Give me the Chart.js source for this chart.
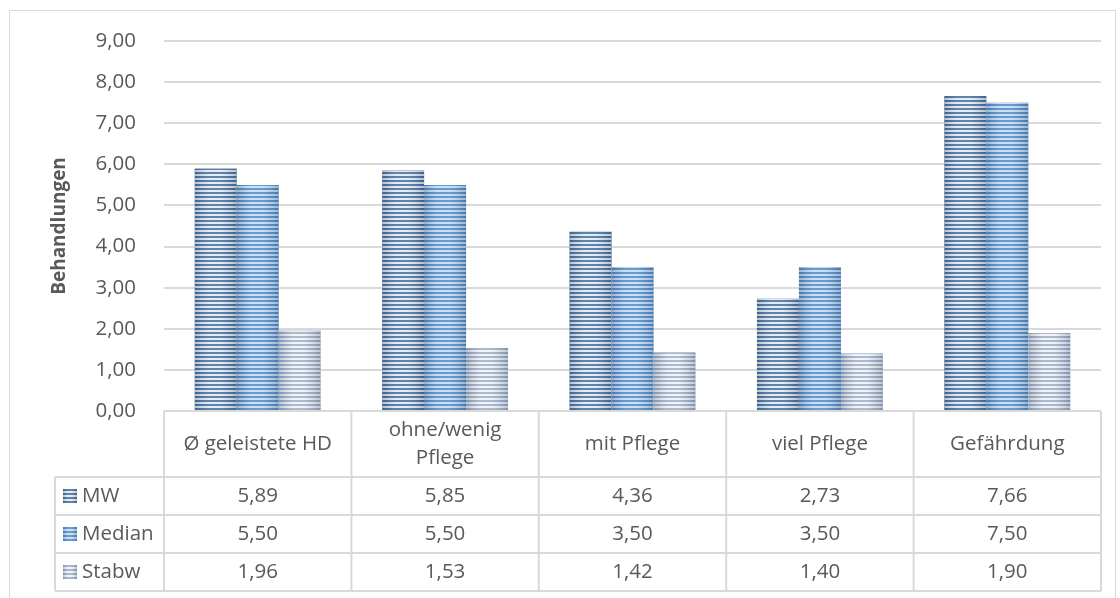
<!DOCTYPE html>
<html>
<head>
<meta charset="utf-8">
<script src="https://cdn.jsdelivr.net/npm/chart.js@4/dist/chart.umd.min.js"></script>
<style>
  html, body { margin: 0; padding: 0; background: #fff; }
  #wrap { width: 1120px; height: 598px; position: relative; }
</style>
</head>
<body>
<div id="wrap"><canvas id="chart"></canvas></div>
<script>
// Data
const categories = ['Ø geleistete HD', ['ohne/wenig', 'Pflege'], 'mit Pflege', 'viel Pflege', 'Gefährdung'];
const seriesNames = ['MW', 'Median', 'Stabw'];
const mwValues = [5.89, 5.85, 4.36, 2.73, 7.66];
const medianValues = [5.50, 5.50, 3.50, 3.50, 7.50];
const stabwValues = [1.96, 1.53, 1.42, 1.40, 1.90];
const yAxisTitle = 'Behandlungen';

// stripe colours per series (dark line / light line)
const palettes = [
    { dark: '#426f9e', light: '#e2e9f2' },
    { dark: '#4d89ca', light: '#c4dbf1' },
    { dark: '#9dacc6', light: '#eef1f6' }
];

const FONT = '"Open Sans", sans-serif';
const TEXT = '#595959';
const LINE = '#d9d9d9';

const fmt = v => v.toFixed(2).replace('.', ',');

function stripedRect(ctx, x, y, w, h, pal) {
    if (h <= 0) return;
    ctx.save();
    ctx.beginPath();
    ctx.rect(x, y, w, h);
    ctx.clip();
    ctx.fillStyle = pal.light;
    ctx.fillRect(x, y, w, h);
    ctx.fillStyle = pal.dark;
    for (let yy = y + h; yy > y - 4; yy -= 4) {
        ctx.fillRect(x, yy - 2, w, 2);
    }
    // soft horizontal shading, darker at the edges
    const g = ctx.createLinearGradient(x, 0, x + w, 0);
    g.addColorStop(0, 'rgba(40,60,90,0.25)');
    g.addColorStop(0.35, 'rgba(255,255,255,0.15)');
    g.addColorStop(0.6, 'rgba(255,255,255,0.15)');
    g.addColorStop(1, 'rgba(40,60,90,0.25)');
    ctx.fillStyle = g;
    ctx.fillRect(x, y, w, h);
    ctx.restore();
}

// draws the striped bars, the axis title, the data table and the frame
const tablePlugin = {
    id: 'dataTable',
    afterDatasetsDraw(chart) {
        const ctx = chart.ctx;
        chart.data.datasets.forEach((ds, i) => {
            const meta = chart.getDatasetMeta(i);
            meta.data.forEach(bar => {
                const w = bar.width;
                stripedRect(ctx, bar.x - w / 2, bar.y, w, bar.base - bar.y, palettes[i]);
            });
        });
    },
    afterDraw(chart) {
        const ctx = chart.ctx;
        const area = chart.chartArea;
        const xs = chart.scales.x;
        const n = categories.length;
        const colW = (area.right - area.left) / n;
        const top = area.bottom;
        const headH = 66;
        const rowH = 38;
        const legendLeft = 55;
        const rowsTop = top + headH;
        const bottom = rowsTop + rowH * seriesNames.length;

        ctx.save();
        ctx.strokeStyle = LINE;
        ctx.lineWidth = 2;
        ctx.beginPath();
        ctx.moveTo(area.left, top); ctx.lineTo(area.right, top);
        for (let r = 0; r <= seriesNames.length; r++) {
            const y = rowsTop + r * rowH;
            ctx.moveTo(legendLeft, y); ctx.lineTo(area.right, y);
        }
        for (let c = 0; c <= n; c++) {
            const x = area.left + c * colW;
            ctx.moveTo(x, top); ctx.lineTo(x, bottom);
        }
        ctx.moveTo(legendLeft, rowsTop); ctx.lineTo(legendLeft, bottom);
        ctx.stroke();

        ctx.fillStyle = TEXT;
        ctx.font = '20.5px ' + FONT;
        ctx.textAlign = 'center';
        ctx.textBaseline = 'middle';
        categories.forEach((cat, c) => {
            const cx = xs.getPixelForValue(c);
            const lines = Array.isArray(cat) ? cat : [cat];
            const lh = 28;
            const y0 = top + headH / 2 - (lines.length - 1) * lh / 2;
            lines.forEach((l, k) => ctx.fillText(l, cx, y0 + k * lh));
        });

        const allValues = [mwValues, medianValues, stabwValues];
        seriesNames.forEach((name, r) => {
            const cy = rowsTop + r * rowH + rowH / 2;
            allValues[r].forEach((v, c) => {
                ctx.fillStyle = TEXT;
                ctx.textAlign = 'center';
                ctx.fillText(fmt(v), xs.getPixelForValue(c), cy);
            });
            stripedRect(ctx, 63, cy - 7, 14, 14, palettes[r]);
            ctx.fillStyle = TEXT;
            ctx.textAlign = 'left';
            ctx.fillText(name, 82, cy);
        });

        // y axis title
        ctx.save();
        ctx.translate(60, (area.top + area.bottom) / 2);
        ctx.rotate(-Math.PI / 2);
        ctx.font = 'bold 19px ' + FONT;
        ctx.textAlign = 'center';
        ctx.fillStyle = TEXT;
        ctx.fillText(yAxisTitle, 0, 0);
        ctx.restore();

        // outer frame
        ctx.lineWidth = 1;
        ctx.strokeStyle = LINE;
        ctx.strokeRect(9.5, 10.5, 1106, 600);
        ctx.restore();
    }
};

new Chart(document.getElementById('chart'), {
    type: 'bar',
    data: {
        labels: categories,
        datasets: [
            { label: seriesNames[0], data: mwValues, backgroundColor: palettes[0].dark },
            { label: seriesNames[1], data: medianValues, backgroundColor: palettes[1].dark },
            { label: seriesNames[2], data: stabwValues, backgroundColor: palettes[2].dark }
        ]
    },
    options: {
        responsive: true,
        maintainAspectRatio: false,
        animation: false,
        layout: { padding: { left: 0, top: 41, right: 19, bottom: 187 } },
        datasets: { bar: { categoryPercentage: 0.672, barPercentage: 1 } },
        scales: {
            x: { display: false },
            y: {
                min: 0,
                max: 9,
                afterFit: axis => { axis.width = 164; },
                border: { display: false },
                grid: { color: LINE, lineWidth: 2, drawTicks: false },
                ticks: {
                    stepSize: 1,
                    padding: 28,
                    color: TEXT,
                    font: { family: FONT, size: 20.5 },
                    callback: v => fmt(v)
                }
            }
        },
        plugins: {
            legend: { display: false },
            tooltip: { enabled: false }
        }
    },
    plugins: [tablePlugin]
});
</script>
</body>
</html>
